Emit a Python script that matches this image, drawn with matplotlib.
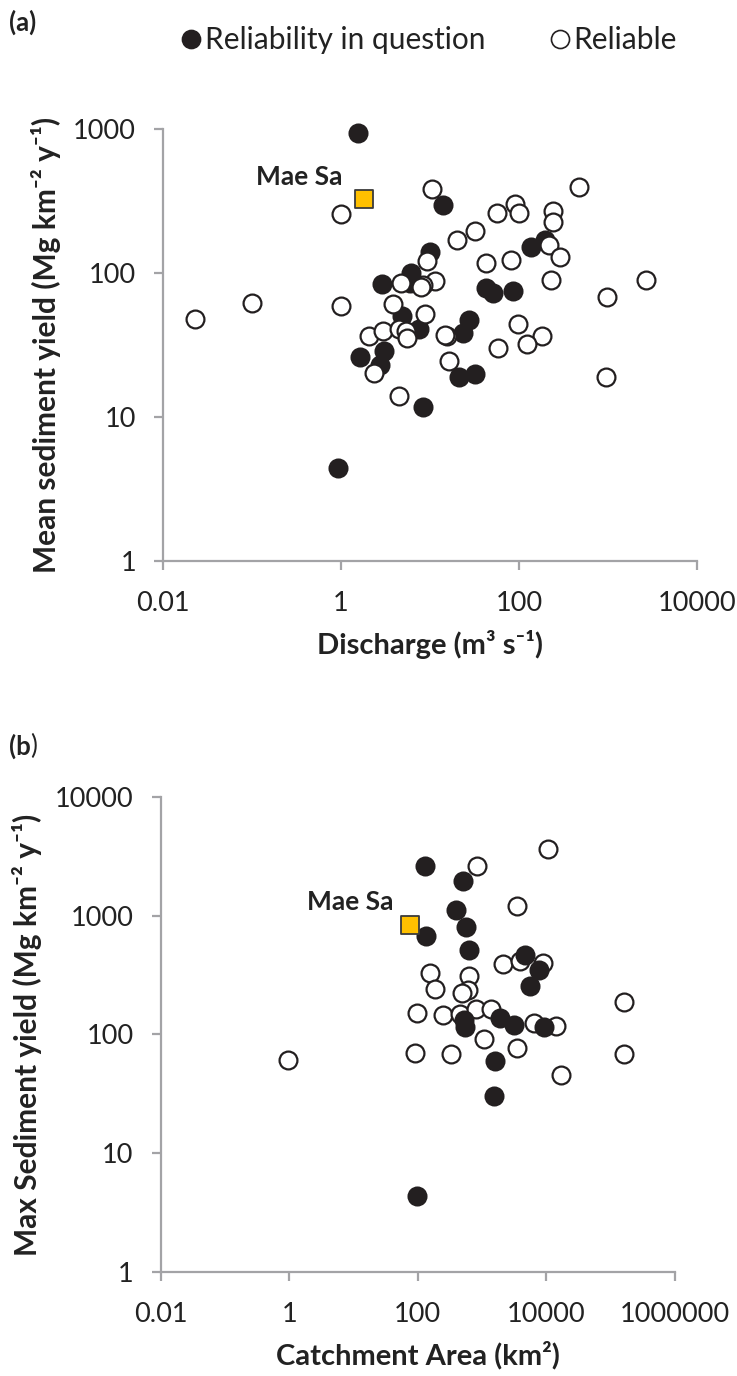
import matplotlib
matplotlib.use("Agg")
import matplotlib.pyplot as plt
from matplotlib.lines import Line2D

plt.rcParams['font.family'] = ['Lato', 'DejaVu Sans']

# (a) mean sediment yield vs discharge
qa_doubt = [1.55, 14, 10, 42.6, 50.6, 86, 196, 136, 27.4, 23.3, 21.3, 32, 8.4,
            2.9, 6.1, 5.96, 4.9, 7.6, 1.63, 3.07, 2.74, 0.93]
ya_doubt = [940, 295, 140, 79, 73, 75, 169, 152, 47, 38.5, 19, 19.8, 11.8,
            84, 99.5, 85, 50, 41, 26, 28.7, 23, 4.4]
qa_ok = [10.6, 1.0, 20.3, 32, 57, 90, 100, 476, 243, 243, 217, 289, 43, 81,
         9.3, 11.4, 8.3, 229, 2674, 966, 8.9, 15.4, 98, 183, 122, 58, 16.5,
         950, 0.099, 0.023, 1.0, 4.7, 7.9, 3.8, 2.06, 2.99, 4.5, 5.4, 5.5,
         14.8, 2.37, 4.5]
ya_ok = [385, 257, 169, 196, 260, 301, 260, 394, 269, 226, 157, 129, 118, 123,
         121, 88, 83, 89, 89, 68, 52, 36.7, 44.5, 36.5, 32, 30.3, 24.5,
         19, 61.6, 47.7, 59, 85, 80, 61, 36.7, 39.5, 40.8, 39.5, 35.2,
         37, 20.1, 14.1]
maesa_q, maesa_mean = 1.8, 325

# (b) max sediment yield vs catchment area
ab_doubt = [131, 498, 397, 555, 136, 618, 4592, 7780, 5495, 529, 549, 1923,
            3097, 9078, 1607, 1552, 97]
yb_doubt = [2612, 1941, 1109, 802, 670, 511, 464, 347, 256, 132, 116, 138,
            120, 116, 59.7, 30.3, 4.38]
ab_ok = [834, 10470, 3499, 2119, 3840, 8886, 157, 182, 97, 243, 618, 596, 488,
         459, 805, 1393, 6344, 14310, 1057, 3499, 91, 332, 16940, 163700,
         163700, 0.94]
yb_ok = [2612, 3656, 1205, 390, 415, 400, 329, 240, 153, 145, 309, 236, 225,
         150, 165, 163, 125, 118, 92.5, 77, 70, 68, 45.5, 188, 68, 61]
maesa_area, maesa_max = 74.5, 840

xticks_a = [0.01, 1, 100, 10000]
yticks_a = [1, 10, 100, 1000]
xticks_b = [0.01, 1, 100, 10000, 1000000]
yticks_b = [1, 10, 100, 1000, 10000]

dark = '#231f20'
grey = '#a3a3a6'
gold = '#ffc000'
txt = '#222222'


def fmt(v):
    return '0.01' if v < 1 else str(int(v))


def style_axes(ax, xt, yt):
    ax.set_xscale('log')
    ax.set_yscale('log')
    ax.set_xlim(xt[0], xt[-1])
    ax.set_ylim(yt[0], yt[-1])
    ax.set_xticks(xt, [fmt(v) for v in xt])
    ax.set_yticks(yt, [fmt(v) for v in yt])
    ax.minorticks_off()
    for s in ['top', 'right']:
        ax.spines[s].set_visible(False)
    for s in ['left', 'bottom']:
        ax.spines[s].set_color(grey)
        ax.spines[s].set_linewidth(1.6)
    ax.tick_params(axis='both', direction='out', length=6.5, width=1.6,
                   color=grey, labelsize=19.5, labelcolor=txt)
    ax.tick_params(axis='x', pad=15)
    ax.tick_params(axis='y', pad=13)


fig = plt.figure(figsize=(7.37, 13.76), dpi=100)

ax1 = fig.add_axes([0.2212, 0.5923, 0.7245, 0.3139])
ax1.scatter(qa_doubt, ya_doubt, s=165, c=dark, edgecolors=dark, linewidths=1.6,
            zorder=3, clip_on=False)
ax1.scatter(qa_ok, ya_ok, s=165, c='white', edgecolors=dark, linewidths=1.6,
            zorder=4, clip_on=False)
ax1.scatter([maesa_q], [maesa_mean], marker='s', s=150, c=gold,
            edgecolors='#3a3a3a', linewidths=1.3, zorder=5)
ax1.annotate('Mae Sa', (maesa_q, maesa_mean), xytext=(-21, 22),
             textcoords='offset pixels', ha='right', va='center',
             fontsize=19, fontweight='bold', color=txt)
style_axes(ax1, xticks_a, yticks_a)
ax1.set_xlabel('Discharge (m³ s⁻¹)', fontsize=21, fontweight='bold',
               color=txt, labelpad=10)
ax1.set_ylabel('Mean sediment yield (Mg km⁻² y⁻¹)', fontsize=21.5,
               fontweight='bold', color=txt, labelpad=9)

ax2 = fig.add_axes([0.218, 0.0754, 0.6979, 0.3456])
ax2.scatter(ab_ok, yb_ok, s=165, c='white', edgecolors=dark, linewidths=1.6,
            zorder=3, clip_on=False)
ax2.scatter(ab_doubt, yb_doubt, s=165, c=dark, edgecolors=dark, linewidths=1.6,
            zorder=4, clip_on=False)
ax2.scatter([maesa_area], [maesa_max], marker='s', s=150, c=gold,
            edgecolors='#3a3a3a', linewidths=1.3, zorder=5)
ax2.annotate('Mae Sa', (maesa_area, maesa_max), xytext=(-16, 23),
             textcoords='offset pixels', ha='right', va='center',
             fontsize=19, fontweight='bold', color=txt)
style_axes(ax2, xticks_b, yticks_b)
ax2.set_xlabel('Catchment Area (km²)', fontsize=21, fontweight='bold',
               color=txt, labelpad=10)
ax2.set_ylabel('Max Sediment yield (Mg km⁻² y⁻¹)', fontsize=21.5,
               fontweight='bold', color=txt, labelpad=9)

# panel letters; the closing bracket of (b) is set in regular weight
fig.text(0.012, 1 - 22 / 1376, '(a)', fontsize=18.5, fontweight='bold',
         color=txt, va='center')
tb = fig.text(0.012, 1 - 746 / 1376, '(b', fontsize=18.5, fontweight='bold',
              color=txt, va='center')
fig.canvas.draw()
bb = tb.get_window_extent()
fig.text(bb.x1 / fig.bbox.width, 1 - 746 / 1376, ')', fontsize=18.5,
         color=txt, va='center')

handles = [
    Line2D([], [], ls='none', marker='o', ms=13, mfc=dark, mec=dark, mew=1.2),
    Line2D([], [], ls='none', marker='o', ms=13, mfc='white', mec=dark, mew=1.2),
]
fig.legend(handles, ['Reliability in question', 'Reliable'], ncol=2,
           loc='center', bbox_to_anchor=(428 / 737, 1 - 40 / 1376),
           frameon=False, fontsize=21.5, handletextpad=0.05, columnspacing=2.1,
           handlelength=0.8, labelcolor=txt)

plt.savefig('out.png', dpi=100)
